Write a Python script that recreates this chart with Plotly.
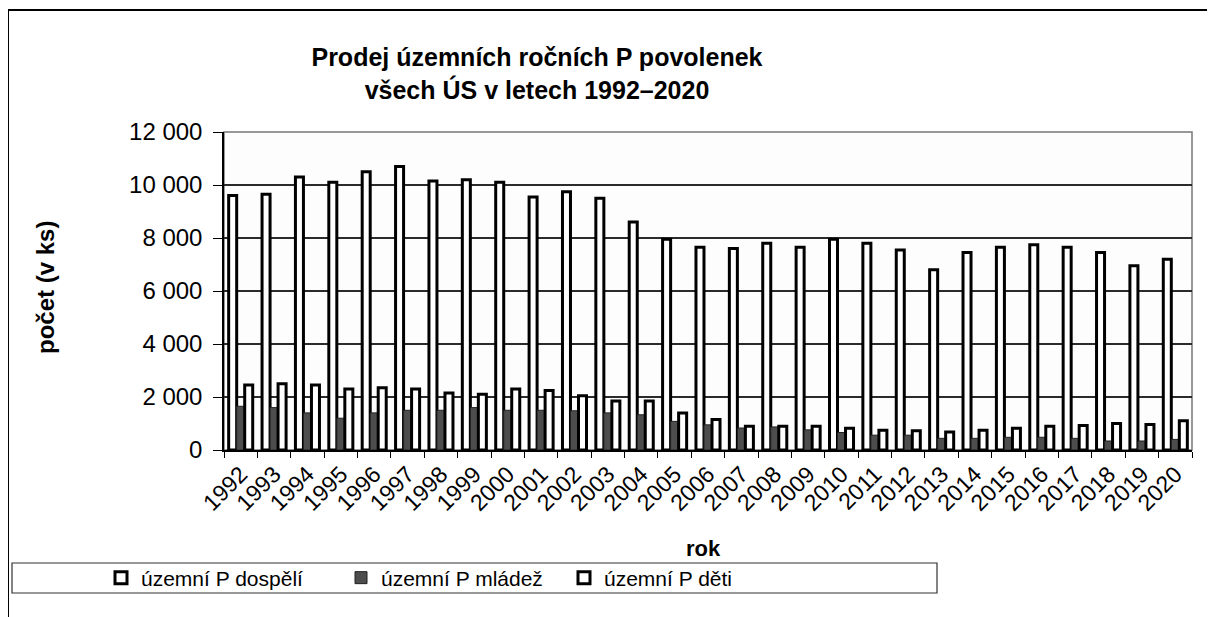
import plotly.graph_objects as go

# data
years = [str(y) for y in range(1992, 2021)]
dospeli = [9600, 9650, 10300, 10100, 10500, 10700, 10150, 10200, 10100, 9550,
           9750, 9500, 8600, 7950, 7650, 7600, 7800, 7650, 7950, 7800,
           7550, 6800, 7450, 7650, 7750, 7650, 7450, 6950, 7200]
mladez = [1650, 1600, 1400, 1200, 1400, 1500, 1500, 1600, 1500, 1500,
          1480, 1400, 1330, 1080, 950, 830, 870, 760, 660, 560,
          560, 440, 440, 480, 480, 440, 340, 340, 400]
deti = [2450, 2500, 2450, 2300, 2350, 2300, 2150, 2100, 2300, 2250,
        2050, 1850, 1850, 1400, 1150, 900, 900, 900, 820, 750,
        730, 680, 750, 820, 900, 920, 1000, 960, 1100]
series_names = ["územní P dospělí", "územní P mládež", "územní P děti"]

FONT = "Liberation Sans, Arial, sans-serif"
OFF = 8  # page body margin, figure starts at (8, 8) on the page
W, H = 1215 - OFF, 617 - OFF
# plot area in page pixels: x 224..1192, y 132..450
L, T = 224 - OFF, 132 - OFF
R, B = W - (1192 - OFF), H - (450 - OFF)
PW, PH = W - L - R, H - T - B


def px(x):
    # page pixel column -> paper x
    return (x - OFF - L) / PW


def py(y):
    # page pixel row -> paper y
    return (H - B - (y - OFF)) / PH


fig = go.Figure()
fig.add_trace(go.Bar(x=years, y=dospeli, name=series_names[0], legend="legend",
                     marker=dict(color="white", line=dict(color="black", width=3))))
fig.add_trace(go.Bar(x=years, y=mladez, name=series_names[1], legend="legend2",
                     marker=dict(color="#4d4d4d", line=dict(color="#222222", width=1))))
fig.add_trace(go.Bar(x=years, y=deti, name=series_names[2], legend="legend3",
                     marker=dict(color="white", line=dict(color="black", width=3))))

leg = dict(orientation="h", xanchor="left", yanchor="middle", y=py(578),
           bgcolor="rgba(0,0,0,0)", font=dict(size=21, family=FONT), itemwidth=30)

fig.update_layout(
    width=W, height=H,
    margin=dict(l=L, r=R, t=T, b=B, autoexpand=False),
    paper_bgcolor="white",
    plot_bgcolor="#fdfdfd",
    separators=", ",
    font=dict(family=FONT, color="black"),
    barmode="group",
    bargap=0.28,
    bargroupgap=0,
    title=dict(text="<b>Prodej územních ročních P povolenek<br>všech ÚS v letech 1992–2020</b>",
               x=(537 - OFF) / W, xanchor="center", y=1 - (66 - OFF) / H, yanchor="top",
               font=dict(size=25, family=FONT)),
    showlegend=True,
    legend=dict(leg, x=px(101)),
    legend2=dict(leg, x=px(341)),
    legend3=dict(leg, x=px(564)),
)

fig.update_xaxes(
    type="category", tickangle=-45, tickfont=dict(size=23, family=FONT),
    showline=True, linecolor="black", linewidth=1.5,
    ticks="outside", tickson="boundaries", ticklen=6, tickcolor="black",
    showgrid=False,
)
fig.update_yaxes(
    range=[0, 12000], dtick=2000, tickformat=",d",
    tickfont=dict(size=24, family=FONT), ticklabelstandoff=6,
    showline=True, linecolor="black", linewidth=1.5,
    ticks="outside", ticklen=9, tickcolor="black",
    showgrid=True, gridcolor="#2b2b2b", gridwidth=1.5,
    zeroline=False,
)

# plot area frame, outer chart border and legend box
fig.add_shape(type="rect", xref="x domain", yref="y domain", x0=0, x1=1, y0=0, y1=1,
              line=dict(color="#777777", width=1.5), layer="below")
fig.add_shape(type="line", xref="paper", yref="paper",
              x0=px(8), x1=px(1215), y0=py(10), y1=py(10),
              line=dict(color="black", width=2))
fig.add_shape(type="line", xref="paper", yref="paper",
              x0=px(8), x1=px(8), y0=py(617), y1=py(10),
              line=dict(color="black", width=2))
fig.add_shape(type="rect", xref="paper", yref="paper",
              x0=px(12), x1=px(937), y0=py(593), y1=py(563),
              line=dict(color="#333333", width=1.2))

# axis titles
fig.add_annotation(text="<b>počet (v ks)</b>", xref="paper", yref="paper",
                   x=px(45), y=py(288), xanchor="center", yanchor="middle",
                   textangle=-90, showarrow=False, font=dict(size=24, family=FONT))
fig.add_annotation(text="<b>rok</b>", xref="paper", yref="paper",
                   x=px(703), y=py(548), xanchor="center", yanchor="middle",
                   showarrow=False, font=dict(size=22, family=FONT))

fig.write_html("out.html")
